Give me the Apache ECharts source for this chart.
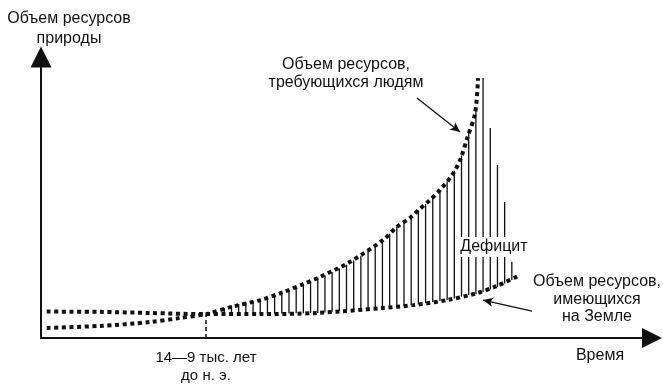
<!DOCTYPE html>
<html>
<head>
<meta charset="utf-8">
<script src="https://cdn.jsdelivr.net/npm/echarts@6/dist/echarts.min.js"></script>
<style>
html,body{margin:0;padding:0;background:#fff;}
#chart{width:663px;height:391px;}
</style>
</head>
<body>
<div id="chart"></div>
<script>
// Time (arbitrary units) and resource volumes
const timeRequired = [0.3, 7.7, 14.7, 18.8, 22.45, 26.2, 30.0, 33.2, 36.0, 38.3, 42.5, 47.1, 49.0, 50.8, 52.2, 53.6, 55.0, 56.7, 57.8, 58.8, 59.9, 60.3];
const required     = [3.6, 4.3, 5.7, 7.1, 8.5, 11.2, 13.5, 16.3, 19.2, 21.7, 27.1, 34.9, 39.5, 42.7, 45.9, 49.1, 52.7, 58.0, 63.3, 71.2, 80.1, 92.5];

const timeAvailable = [0.3, 7.7, 14.7, 22.45, 30.0, 37.9, 47.1, 51.3, 56.0, 60.2, 62.9, 65.9];
const available     = [9.4, 9.3, 8.9, 8.5, 8.5, 8.9, 10.7, 11.7, 13.5, 16.0, 18.5, 22.1];

// Deficit hatch lines
const deficitTime = [25,26,27,28,29,30,31,32,33,34,35,36,37,38,39,40,41,42,43,44,45,46,47,48,49,50,51,52,53,54,55,56,57,58,59,60,61,62,63,64,65];
const deficitLow  = [8.5,8.5,8.5,8.5,8.5,8.5,8.6,8.6,8.7,8.7,8.8,8.8,8.9,8.9,9.1,9.3,9.5,9.7,9.9,10.1,10.3,10.5,10.7,10.9,11.2,11.4,11.7,12.0,12.4,12.8,13.2,13.5,14.1,14.7,15.3,15.6,16.4,17.3,18.2,19.4,20.6];
const deficitHigh = [10.7,11.6,12.1,12.6,13.1,13.5,14.4,15.2,16.1,16.9,17.9,19.1,20.2,21.4,22.2,23.5,24.8,26.1,27.6,29.3,31.0,32.7,34.7,37.1,39.5,41.2,43.1,45.4,47.7,50.1,52.6,55.8,59.5,65.0,73.1,81.1,92.5,74.7,61.6,48.4,27.1];

// Tick where the curves cross
const crossTime = 22.45;
const crossValue = 8.4;
const crossLabel = '14—9 тыс. лет\nдо н. э.';

const ink = '#111';
const font = '"Liberation Sans", Arial, sans-serif';

const chart = echarts.init(document.getElementById('chart'));
const dotted = {color: ink, width: 4, type: [4, 3.6], cap: 'butt'};

chart.setOption({
  animation: false,
  backgroundColor: '#fff',
  grid: {left: 41, right: 11, top: 57, bottom: 53, outerBoundsMode: 'none'},
  xAxis: {
    type: 'value', min: -0.5, max: 84.5,
    axisLine: {show: true, onZero: false, symbol: ['none', 'triangle'], symbolSize: [20, 20], lineStyle: {color: ink, width: 2}},
    axisTick: {show: false},
    splitLine: {show: false},
    axisLabel: {
      customValues: [crossTime],
      formatter: () => crossLabel,
      margin: 11, color: ink, fontFamily: font, fontSize: 15, lineHeight: 18
    }
  },
  yAxis: {
    type: 'value', min: 0, max: 100,
    axisLine: {show: true, onZero: false, symbol: ['none', 'triangle'], symbolSize: [21, 21], lineStyle: {color: ink, width: 2}},
    axisTick: {show: false},
    splitLine: {show: false},
    axisLabel: {show: false}
  },
  series: [
    {
      name: 'Дефицит',
      type: 'custom',
      z: 1,
      data: deficitTime.map((t, i) => [t, deficitLow[i], deficitHigh[i]]),
      encode: {x: 0, y: [1, 2]},
      renderItem: (params, api) => {
        const p1 = api.coord([api.value(0), api.value(1)]);
        const p2 = api.coord([api.value(0), api.value(2)]);
        return {type: 'line', shape: {x1: p1[0], y1: p1[1], x2: p2[0], y2: p2[1]},
                style: {stroke: ink, lineWidth: 1.3}};
      }
    },
    {
      name: 'Объем ресурсов, требующихся людям',
      type: 'line', z: 3,
      data: timeRequired.map((t, i) => [t, required[i]]),
      showSymbol: false, smooth: 0.3,
      lineStyle: dotted,
      markLine: {
        silent: true, symbol: ['none', 'arrow'], symbolSize: [7, 10],
        label: {show: false},
        lineStyle: {type: 'solid', width: 1.3, color: ink},
        data: [
          [{coord: [51.8, 85.4]}, {coord: [57.8, 73.3]}],
          [{coord: [67.8, 9.6]}, {coord: [61.0, 13.5]}]
        ]
      }
    },
    {
      name: 'Объем ресурсов, имеющихся на Земле',
      type: 'line', z: 3,
      data: timeAvailable.map((t, i) => [t, available[i]]),
      showSymbol: false, smooth: 0.3,
      lineStyle: dotted,
      markLine: {
        silent: true, symbol: ['none', 'none'],
        label: {show: false},
        lineStyle: {type: [4, 3], width: 1.5, color: ink},
        data: [[{coord: [crossTime, 0]}, {coord: [crossTime, crossValue]}]]
      }
    }
  ],
  graphic: [
    {type: 'text', z: 100, x: 69, y: 9, style: {text: 'Объем ресурсов\nприроды', align: 'center', verticalAlign: 'top', fill: ink, font: '16px ' + font, lineHeight: 20}},
    {type: 'text', z: 100, x: 346, y: 56, style: {text: 'Объем ресурсов,\nтребующихся людям', align: 'center', verticalAlign: 'top', fill: ink, font: '16px ' + font, lineHeight: 18}},
    {type: 'text', z: 100, x: 494, y: 247, style: {text: 'Дефицит', align: 'center', verticalAlign: 'middle', fill: ink, font: '16px ' + font, backgroundColor: '#fff', padding: [2, 2]}},
    {type: 'text', z: 100, x: 597, y: 273, style: {text: 'Объем ресурсов,\nимеющихся\nна Земле', align: 'center', verticalAlign: 'top', fill: ink, font: '16px ' + font, lineHeight: 17.5}},
    {type: 'text', z: 100, x: 600, y: 356, style: {text: 'Время', align: 'center', verticalAlign: 'middle', fill: ink, font: '16px ' + font}}
  ]
});
</script>
</body>
</html>
